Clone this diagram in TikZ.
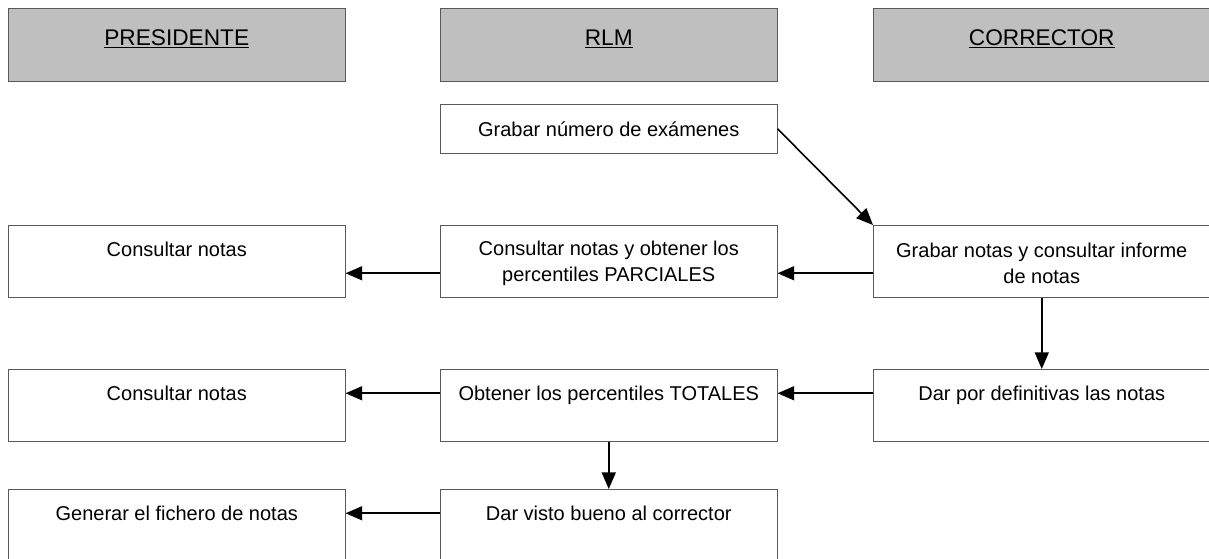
\documentclass[tikz,border=0pt]{standalone}
\usepackage{fontspec}
\setmainfont{Liberation Sans}
\usetikzlibrary{arrows.meta}
\begin{document}
\begin{tikzpicture}[x=0.75pt, y=-0.75pt,
    every node/.style={font=\fontsize{15}{19.5}\selectfont},
    lane/.style={draw=black!65, fill=black!25, anchor=north west, minimum width=252.75pt,
      minimum height=54.75pt, font=\fontsize{17}{20}\selectfont, text height=13pt, text depth=12.25pt},
    task/.style={draw=black!65, anchor=north west, minimum width=252.75pt, minimum height=54pt,
      align=center, inner sep=0pt},
    firstline/.style={text height=11pt, text depth=18.5pt},
    arr/.style={-{Triangle[length=12.5pt,width=10.5pt]}, line width=1.2pt}]
        \useasboundingbox (0,0) rectangle (1209,558);
        \clip (0,0) rectangle (1209,558);

        % calles
        \node[lane] (pres) at (8,8) {\underline{PRESIDENTE}};
        \node[lane] (rlm) at (440,8) {\underline{RLM}};
        \node[lane] (corr) at (873,8) {\underline{CORRECTOR}};

        % tareas
        \node[task, minimum height=36.75pt] (rnum) at (440,104) {Grabar número de exámenes};
        \node[task, firstline] (pcons) at (8,225) {Consultar notas};
        \node[task] (rcons) at (440,225) {\rule{0pt}{14pt}Consultar notas y obtener los\\percentiles PARCIALES};
        \node[task] (cgrab) at (873,225) {\rule{0pt}{14pt}Grabar notas y consultar informe\\de notas};
        \node[task, firstline] (ptot) at (8,369) {Consultar notas};
        \node[task, firstline] (rtot) at (440,369) {Obtener los percentiles TOTALES};
        \node[task, firstline] (cdef) at (873,369) {Dar por definitivas las notas};
        \node[task, firstline] (pgen) at (8,489) {Generar el fichero de notas};
        \node[task, firstline] (rvis) at (440,489) {Dar visto bueno al corrector};

        \draw[arr] (rnum.east) -- (cgrab.north west);
        \draw[arr] ([yshift=-9pt]cgrab.west) -- ([yshift=-9pt]rcons.east);
        \draw[arr] ([yshift=-9pt]rcons.west) -- ([yshift=-9pt]pcons.east);
        \draw[arr] (cgrab.south) -- (cdef.north);
        \draw[arr] ([yshift=9pt]cdef.west) -- ([yshift=9pt]rtot.east);
        \draw[arr] ([yshift=9pt]rtot.west) -- ([yshift=9pt]ptot.east);
        \draw[arr] (rtot.south) -- (rvis.north);
        \draw[arr] ([yshift=9pt]rvis.west) -- ([yshift=9pt]pgen.east);
      \end{tikzpicture}
\end{document}
